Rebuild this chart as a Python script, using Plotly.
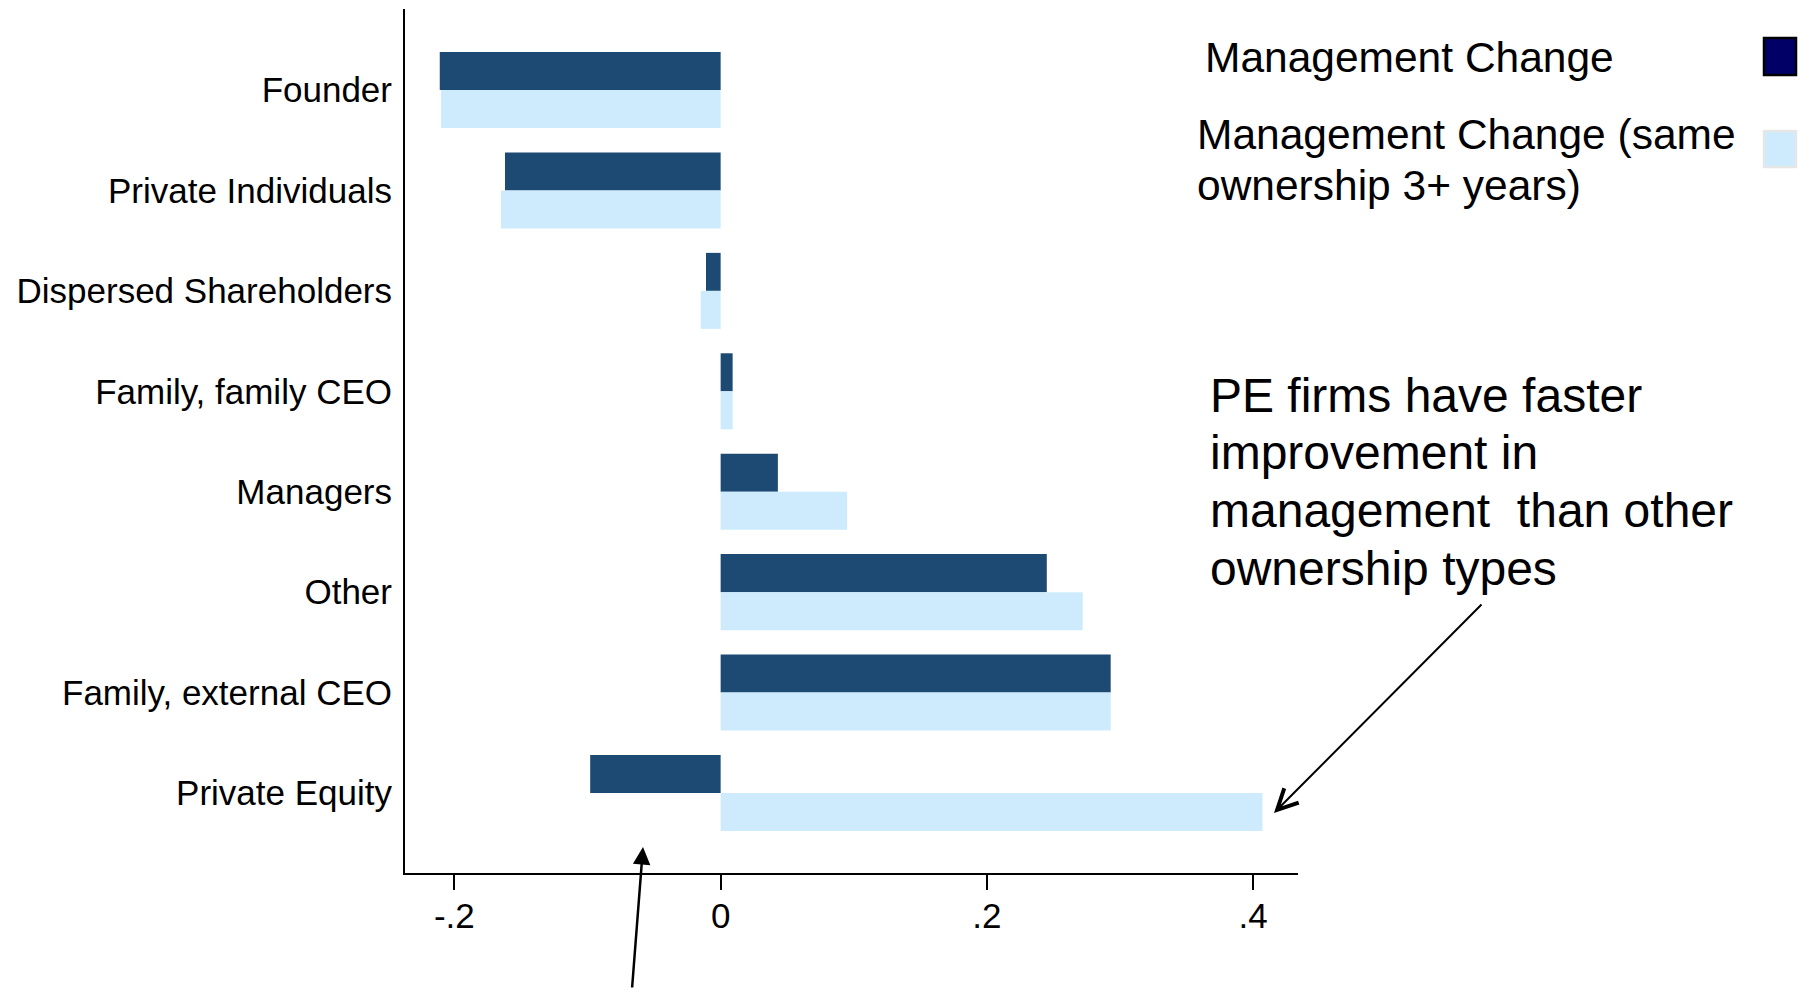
import plotly.graph_objects as go

# ---------------- data ----------------
categories = ["Founder", "Private Individuals", "Dispersed Shareholders",
              "Family, family CEO", "Managers", "Other",
              "Family, external CEO", "Private Equity"]
mgmt_change = [-0.211, -0.162, -0.011, 0.009, 0.043, 0.245, 0.293, -0.098]
mgmt_change_same_owner = [-0.210, -0.165, -0.015, 0.009, 0.095, 0.272, 0.293, 0.407]
series_names = ["Management Change",
                "Management Change (same ownership 3+ years)"]
tick_vals = [-0.2, 0, 0.2, 0.4]
tick_text = ["-.2", "0", ".2", ".4"]

# ---------------- style ----------------
PAGE_W, PAGE_H = 1809, 997
OFF = 8                                  # default body margin of the html page
W, H = PAGE_W - 2 * OFF, PAGE_H - 2 * OFF
L, R, T, B = 405, 1298, 9, 873          # plot area in page pixels
DARK = "#1c4a72"
LIGHT = "#cdebfd"
FONT = "Liberation Sans, Arial, Helvetica, sans-serif"


def px(x):
    return (x - L) / (R - L)


def py(y):
    return (B - y) / (B - T)


fig = go.Figure()
fig.add_trace(go.Bar(y=categories, x=mgmt_change, orientation="h",
                     name=series_names[0], marker=dict(color=DARK, line=dict(width=0)),
                     showlegend=False))
fig.add_trace(go.Bar(y=categories, x=mgmt_change_same_owner, orientation="h",
                     name=series_names[1], marker=dict(color=LIGHT, line=dict(width=0)),
                     showlegend=False))

annotations = []
# legend texts
annotations.append(dict(text="Management Change", x=px(1203), y=py(57), xref="paper", yref="paper",
                        xanchor="left", yanchor="middle", showarrow=False,
                        font=dict(size=42.5, color="black", family=FONT)))
annotations.append(dict(text="Management Change (same", x=px(1195), y=py(134), xref="paper", yref="paper",
                        xanchor="left", yanchor="middle", showarrow=False,
                        font=dict(size=42.5, color="black", family=FONT)))
annotations.append(dict(text="ownership 3+ years)", x=px(1195), y=py(185), xref="paper", yref="paper",
                        xanchor="left", yanchor="middle", showarrow=False,
                        font=dict(size=42.5, color="black", family=FONT)))
# comment text
comment_lines = ["PE firms have faster", "improvement in",
                 "management \u00a0than other", "ownership types"]
for i, line in enumerate(comment_lines):
    annotations.append(dict(text=line, x=px(1208), y=py(395 + i * 57.7), xref="paper", yref="paper",
                            xanchor="left", yanchor="middle", showarrow=False,
                            font=dict(size=48, color="black", family=FONT)))
# arrows (tail given as pixel offset from the tip)
annotations.append(dict(text="", x=px(1274), y=py(813), ax=1483 - 1274, ay=603 - 813,
                        xref="paper", yref="paper", axref="pixel", ayref="pixel",
                        showarrow=True, arrowhead=5, arrowsize=2, arrowwidth=2, arrowcolor="black"))
annotations.append(dict(text="", x=px(643), y=py(847), ax=632 - 643, ay=1000 - 847,
                        xref="paper", yref="paper", axref="pixel", ayref="pixel",
                        showarrow=True, arrowhead=2, arrowsize=1.4, arrowwidth=2.5, arrowcolor="black"))

shapes = [
    dict(type="rect", xref="paper", yref="paper", x0=px(1764), x1=px(1796), y0=py(38), y1=py(75),
         fillcolor="#000066", line=dict(color="black", width=2.5)),
    dict(type="rect", xref="paper", yref="paper", x0=px(1764), x1=px(1796), y0=py(131), y1=py(167),
         fillcolor=LIGHT, line=dict(color="#e6e6e6", width=2.5)),
]

fig.update_layout(
    width=W, height=H,
    margin=dict(l=L - OFF, r=(W + OFF) - R, t=T - OFF, b=(H + OFF) - B, pad=0),
    paper_bgcolor="white", plot_bgcolor="white",
    barmode="group", bargap=0.243, bargroupgap=0,
    font=dict(family=FONT, color="black"),
    annotations=annotations, shapes=shapes,
    showlegend=False,
)
fig.update_xaxes(range=[-0.2371, 0.4337], tickvals=tick_vals, ticktext=tick_text,
                 ticks="outside", ticklen=15, tickwidth=2, tickcolor="black",
                 showline=True, linecolor="black", linewidth=2,
                 showgrid=False, zeroline=False,
                 tickfont=dict(size=35, color="black", family=FONT), ticklabelstandoff=-4)
fig.update_yaxes(type="category", categoryorder="array", categoryarray=categories,
                 range=[7.797, -0.807], ticks="",
                 showline=True, linecolor="black", linewidth=2,
                 showgrid=False, zeroline=False,
                 tickfont=dict(size=35, color="black", family=FONT), ticklabelstandoff=4)

fig.write_html("out.html")
